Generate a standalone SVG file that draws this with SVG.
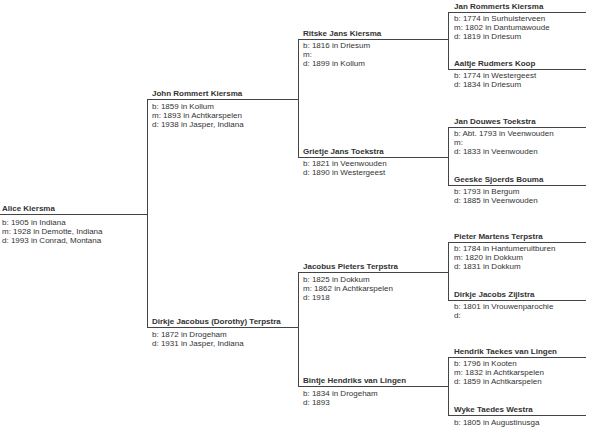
<svg xmlns="http://www.w3.org/2000/svg" width="590" height="429" viewBox="0 0 590 429">
<style>
text{font-family:"Liberation Sans",Arial,sans-serif;font-size:8px;fill:#333}
.n{font-weight:bold}
line{stroke:#444;stroke-width:1;shape-rendering:crispEdges}
</style>
<rect width="590" height="429" fill="#fff"/>
<g id="connectors">
<line x1="147.5" y1="99" x2="147.5" y2="327"/>
<line x1="298.5" y1="40" x2="298.5" y2="157"/>
<line x1="298.5" y1="272" x2="298.5" y2="386"/>
<line x1="448.5" y1="12" x2="448.5" y2="69"/>
<line x1="448.5" y1="127" x2="448.5" y2="185"/>
<line x1="448.5" y1="242" x2="448.5" y2="300"/>
<line x1="448.5" y1="357" x2="448.5" y2="415"/>
</g>
<g id="alice">
<line x1="0" y1="214.5" x2="147" y2="214.5"/>
<text class="n" x="2" y="211">Alice Kiersma</text>
<text x="2" y="225">b: 1905 in Indiana</text>
<text x="2" y="234">m: 1928 in Demotte, Indiana</text>
<text x="2" y="243">d: 1993 in Conrad, Montana</text>
</g>
<g id="john">
<line x1="147" y1="99.5" x2="298" y2="99.5"/>
<text class="n" x="152" y="95.5">John Rommert Kiersma</text>
<text x="152" y="109">b: 1859 in Kollum</text>
<text x="152" y="118">m: 1893 in Achtkarspelen</text>
<text x="152" y="127">d: 1938 in Jasper, Indiana</text>
</g>
<g id="dirkje">
<line x1="147" y1="327.5" x2="298" y2="327.5"/>
<text class="n" x="152" y="323.5">Dirkje Jacobus (Dorothy) Terpstra</text>
<text x="152" y="337">b: 1872 in Drogeham</text>
<text x="152" y="346">d: 1931 in Jasper, Indiana</text>
</g>
<g id="ritske">
<line x1="298" y1="39.5" x2="448" y2="39.5"/>
<text class="n" x="303" y="35.5">Ritske Jans Kiersma</text>
<text x="303" y="48">b: 1816 in Driesum</text>
<text x="303" y="57">m:</text>
<text x="303" y="66">d: 1899 in Kollum</text>
</g>
<g id="grietje">
<line x1="298" y1="157.5" x2="448" y2="157.5"/>
<text class="n" x="303" y="153.5">Grietje Jans Toekstra</text>
<text x="303" y="166">b: 1821 in Veenwouden</text>
<text x="303" y="175">d: 1890 in Westergeest</text>
</g>
<g id="jacobus">
<line x1="298" y1="272.5" x2="448" y2="272.5"/>
<text class="n" x="303" y="268.5">Jacobus Pieters Terpstra</text>
<text x="303" y="282">b: 1825 in Dokkum</text>
<text x="303" y="291">m: 1862 in Achtkarspelen</text>
<text x="303" y="300">d: 1918</text>
</g>
<g id="bintje">
<line x1="298" y1="386.5" x2="448" y2="386.5"/>
<text class="n" x="303" y="382.5">Bintje Hendriks van Lingen</text>
<text x="303" y="396">b: 1834 in Drogeham</text>
<text x="303" y="405">d: 1893</text>
</g>
<g id="jan-rommerts">
<line x1="448" y1="12.5" x2="586" y2="12.5"/>
<text class="n" x="454" y="8.5">Jan Rommerts Kiersma</text>
<text x="454" y="21">b: 1774 in Surhuisterveen</text>
<text x="454" y="30">m: 1802 in Dantumawoude</text>
<text x="454" y="39">d: 1819 in Driesum</text>
</g>
<g id="aaltje">
<line x1="448" y1="69.5" x2="586" y2="69.5"/>
<text class="n" x="454" y="65.5">Aaltje Rudmers Koop</text>
<text x="454" y="78">b: 1774 in Westergeest</text>
<text x="454" y="87">d: 1834 in Driesum</text>
</g>
<g id="jan-douwes">
<line x1="448" y1="127.5" x2="586" y2="127.5"/>
<text class="n" x="454" y="123.5">Jan Douwes Toekstra</text>
<text x="454" y="136">b: Abt. 1793 in Veenwouden</text>
<text x="454" y="145">m:</text>
<text x="454" y="154">d: 1833 in Veenwouden</text>
</g>
<g id="geeske">
<line x1="448" y1="185.5" x2="586" y2="185.5"/>
<text class="n" x="454" y="181.5">Geeske Sjoerds Bouma</text>
<text x="454" y="194">b: 1793 in Bergum</text>
<text x="454" y="203">d: 1885 in Veenwouden</text>
</g>
<g id="pieter">
<line x1="448" y1="242.5" x2="586" y2="242.5"/>
<text class="n" x="454" y="238.5">Pieter Martens Terpstra</text>
<text x="454" y="251">b: 1784 in Hantumeruitburen</text>
<text x="454" y="260">m: 1820 in Dokkum</text>
<text x="454" y="269">d: 1831 in Dokkum</text>
</g>
<g id="dirkje-jacobs">
<line x1="448" y1="300.5" x2="586" y2="300.5"/>
<text class="n" x="454" y="296.5">Dirkje Jacobs Zijlstra</text>
<text x="454" y="309">b: 1801 in Vrouwenparochie</text>
<text x="454" y="318">d:</text>
</g>
<g id="hendrik">
<line x1="448" y1="357.5" x2="586" y2="357.5"/>
<text class="n" x="454" y="353.5">Hendrik Taekes van Lingen</text>
<text x="454" y="366">b: 1796 in Kooten</text>
<text x="454" y="375">m: 1832 in Achtkarspelen</text>
<text x="454" y="384">d: 1859 in Achtkarspelen</text>
</g>
<g id="wyke">
<line x1="448" y1="415.5" x2="586" y2="415.5"/>
<text class="n" x="454" y="411.5">Wyke Taedes Westra</text>
<text x="454" y="425">b: 1805 in Augustinusga</text>
</g>
</svg>
